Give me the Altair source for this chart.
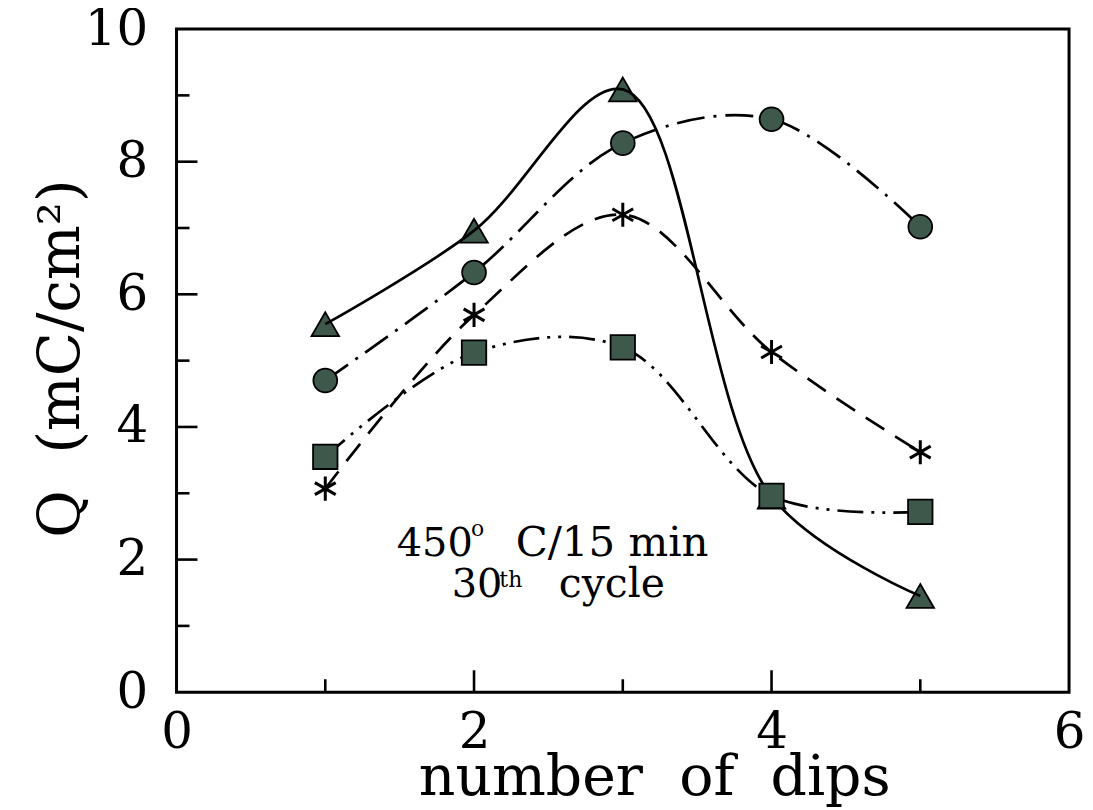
import altair as alt
import pandas as pd

# ---- data ----
dips = [1, 2, 3, 4, 5]
q_triangle = [5.55, 6.96, 9.09, 2.95, 1.45]
q_circle = [4.70, 6.33, 8.28, 8.64, 7.02]
q_star = [3.07, 5.69, 7.20, 5.13, 3.62]
q_square = [3.55, 5.12, 5.20, 2.96, 2.72]

x_tick_labels = [0, 2, 4, 6]
y_tick_labels = [0, 2, 4, 6, 8, 10]
x_major = [2, 4]
x_minor = [1, 3, 5]
y_major = [2, 4, 6, 8]
y_minor = [1, 3, 5, 7, 9]

x_title = "number\u00a0\u00a0of\u00a0\u00a0dips"
y_title = "Q\u00a0\u00a0(mC/cm\u00b2)"

# annotation pieces: text, x, y, size
ann_text = ["450", "o", "C/15\u00a0min", "30", "th", "cycle"]
ann_x = [1.48, 1.98, 2.28, 1.85, 2.17, 2.57]
ann_y = [2.05, 2.35, 2.05, 1.43, 1.58, 1.43]
ann_size = [40, 22, 42, 40, 22, 41]

FONT = "DejaVu Serif"
INK = "#000000"
FILL = "#3f584c"
H = 665

xscale = alt.Scale(domain=[0, 6], nice=False, zero=False)
yscale = alt.Scale(domain=[0, 10], nice=False, zero=False)

x_axis = alt.Axis(values=x_tick_labels, ticks=False, domain=False, grid=False,
                  labelFont=FONT, labelFontSize=50, labelColor=INK, labelPadding=15,
                  labelFlush=False, title=x_title, titleFont=FONT, titleFontSize=57,
                  titleFontWeight="normal", titleColor=INK, titleX=479, titleY=103,
                  titleBaseline="alphabetic", titleAlign="center", titleAnchor="start")
y_axis = alt.Axis(values=y_tick_labels, ticks=False, domain=False, grid=False,
                  labelFont=FONT, labelFontSize=50, labelColor=INK, labelPadding=29,
                  labelFlush=False, title=y_title, titleFont=FONT, titleFontSize=58,
                  titleFontWeight="normal", titleColor=INK, titleX=-98, titleY=330,
                  titleBaseline="alphabetic", titleAlign="center", titleAngle=270,
                  titleAnchor="start")


def X(field):
    return alt.X(field, scale=xscale, axis=x_axis)


def Y(field):
    return alt.Y(field, scale=yscale, axis=y_axis)


def series_df(vals):
    return pd.DataFrame({"dips": dips, "q": vals})


def line(vals, dash):
    kw = dict(color=INK, strokeWidth=2.7, interpolate="catmull-rom")
    if dash:
        kw["strokeDash"] = dash
    return alt.Chart(series_df(vals)).mark_line(**kw).encode(x=X("dips:Q"), y=Y("q:Q"))


def points(vals, shape, size, filled=True):
    kw = dict(shape=shape, size=size, opacity=1)
    if filled:
        kw.update(filled=True, fill=FILL, stroke=INK, strokeWidth=1.8)
    else:
        kw.update(filled=False, stroke=INK, strokeWidth=3)
    return alt.Chart(series_df(vals)).mark_point(**kw).encode(x=X("dips:Q"), y=Y("q:Q"))


star_path = "M0,-1L0,1M-0.866,-0.5L0.866,0.5M-0.866,0.5L0.866,-0.5"

tri_line = line(q_triangle, None)
cir_line = line(q_circle, [28, 9, 3, 9])
star_line = line(q_star, [22, 13])
sq_line = line(q_square, [26, 8, 3, 8, 3, 8])

tri_pts = points(q_triangle, "triangle-up", 760)
cir_pts = points(q_circle, "circle", 570)
star_pts = points(q_star, star_path, 580, filled=False)
sq_pts = points(q_square, "square", 600)


# inward ticks
def yticks(vals, length):
    return alt.Chart(pd.DataFrame({"v": vals})).mark_rule(color=INK, strokeWidth=2.6).encode(
        y=Y("v:Q"), x=alt.value(0), x2=alt.value(length))


def xticks(vals, length):
    return alt.Chart(pd.DataFrame({"v": vals})).mark_rule(color=INK, strokeWidth=2.6).encode(
        x=X("v:Q"), y=alt.value(H), y2=alt.value(H - length))


ann_df = pd.DataFrame({"t": ann_text, "x": ann_x, "y": ann_y, "s": ann_size})
ann = alt.Chart(ann_df).mark_text(font=FONT, align="left", baseline="alphabetic", color=INK).encode(
    x=X("x:Q"),
    y=Y("y:Q"),
    text="t:N",
    size=alt.Size("s:Q", scale=None, legend=None),
)

chart = alt.layer(
    tri_pts,
    yticks(y_major, 21), yticks(y_minor, 13), xticks(x_major, 22), xticks(x_minor, 13),
    tri_line, cir_line, star_line, sq_line,
    cir_pts, star_pts, sq_pts, ann,
).properties(
    width=895, height=H,
    autosize=alt.AutoSizeParams(type="none"),
    padding={"left": 169, "top": 20, "right": 16, "bottom": 117},
).configure(background="white").configure_view(
    stroke=INK, strokeWidth=3, fill="white"
)

chart.save("out.html", embed_options={"renderer": "svg", "actions": False})
